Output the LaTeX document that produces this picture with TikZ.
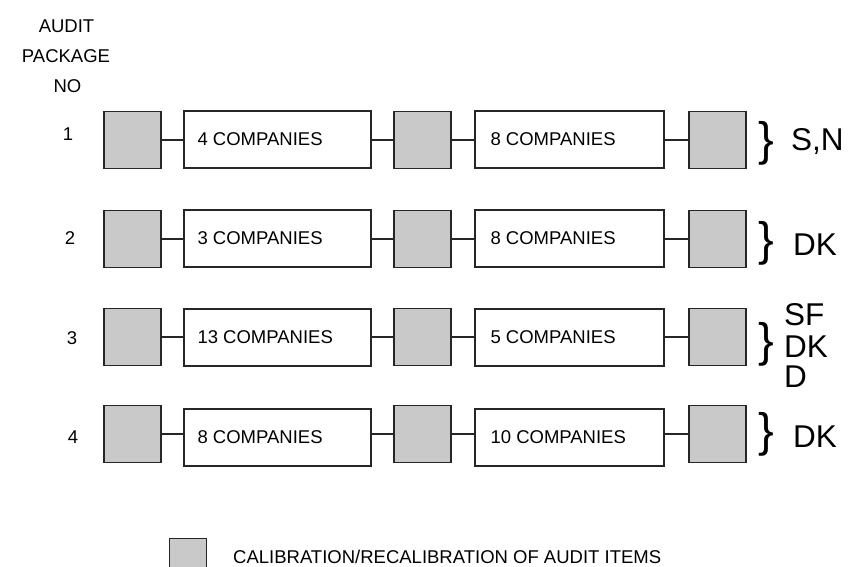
\documentclass[tikz,border=0pt]{standalone}
\usepackage{fontspec}
\setmainfont{Liberation Sans}
\begin{document}
\begin{tikzpicture}[x=1pt,y=-1pt,
  calbox/.style={draw=black!85,line width=1.3pt,fill=black!21,minimum width=57pt,minimum height=57pt,inner sep=0pt},
  compbox/.style={draw=black!85,line width=1.3pt,fill=white,minimum height=57pt,inner sep=0pt},
  complbl/.style={anchor=west,inner sep=0pt,font=\fontsize{18.5}{20}\selectfont},
  conn/.style={draw=black!85,line width=1.3pt},
  numlbl/.style={inner sep=0pt,font=\fontsize{18.5}{20}\selectfont},
  brlbl/.style={inner sep=0pt,font=\fontsize{47}{50}\selectfont},
  ctry/.style={anchor=base west,inner sep=0pt,font=\fontsize{31.5}{33}\selectfont}]
\useasboundingbox (0,0) rectangle (849,566);
% header
\node[numlbl,anchor=base] (h1) at (66.5,32) {AUDIT};
\node[numlbl,anchor=base] (h2) at (66,62) {PACKAGE};
\node[numlbl,anchor=base] (h3) at (67.5,92) {NO};
% rows
\foreach \r/\yg/\yc/\ta/\tb/\nx/\ny in {1/140/139.5/4/8/68/134, 2/239/238.5/3/8/70/238.5, 3/337/337.5/13/5/72/338, 4/434/437.5/8/10/73/437}{
  \node[numlbl] (n\r) at (\nx,\ny) {\r};
  \node[calbox] (ga\r) at (132.5,\yg) {};
  \node[compbox,minimum width=187pt] (ca\r) at (277.5,\yc) {};
  \node[complbl] (ta\r) at ([xshift=14pt]ca\r.west) {\ta\ COMPANIES};
  \node[calbox] (gb\r) at (422.5,\yg) {};
  \node[compbox,minimum width=189pt] (cb\r) at (569.5,\yc) {};
  \node[complbl] (tb\r) at ([xshift=16pt]cb\r.west) {\tb\ COMPANIES};
  \node[calbox] (gc\r) at (717.5,\yg) {};
  \draw[conn] (ga\r.east) -- (ga\r.east -| ca\r.west);
  \draw[conn] (ca\r.east |- gb\r.west) -- (gb\r.west);
  \draw[conn] (gb\r.east) -- (gb\r.east -| cb\r.west);
  \draw[conn] (cb\r.east |- gc\r.west) -- (gc\r.west);
}
% braces and countries
\node[brlbl] (b1) at (766.5,143) {\}};
\node[brlbl] (b2) at (766.5,243.5) {\}};
\node[brlbl] (b3) at (766.5,344) {\}};
\node[brlbl] (b4) at (766.5,434) {\}};
\node[ctry] (c1) at (791,150) {S,N};
\node[ctry] (c2) at (793,255) {DK};
\node[ctry] (c3a) at (784,325) {SF};
\node[ctry] (c3b) at (784,357) {DK};
\node[ctry] (c3c) at (784,387) {D};
\node[ctry] (c4) at (793,447) {DK};
% legend
\node[calbox,minimum width=37pt,minimum height=37pt,anchor=north west] (lg) at (169,538) {};
\node[numlbl,anchor=base west] (lt) at (233,563.5) {CALIBRATION/RECALIBRATION OF AUDIT ITEMS};
\end{tikzpicture}
\end{document}
